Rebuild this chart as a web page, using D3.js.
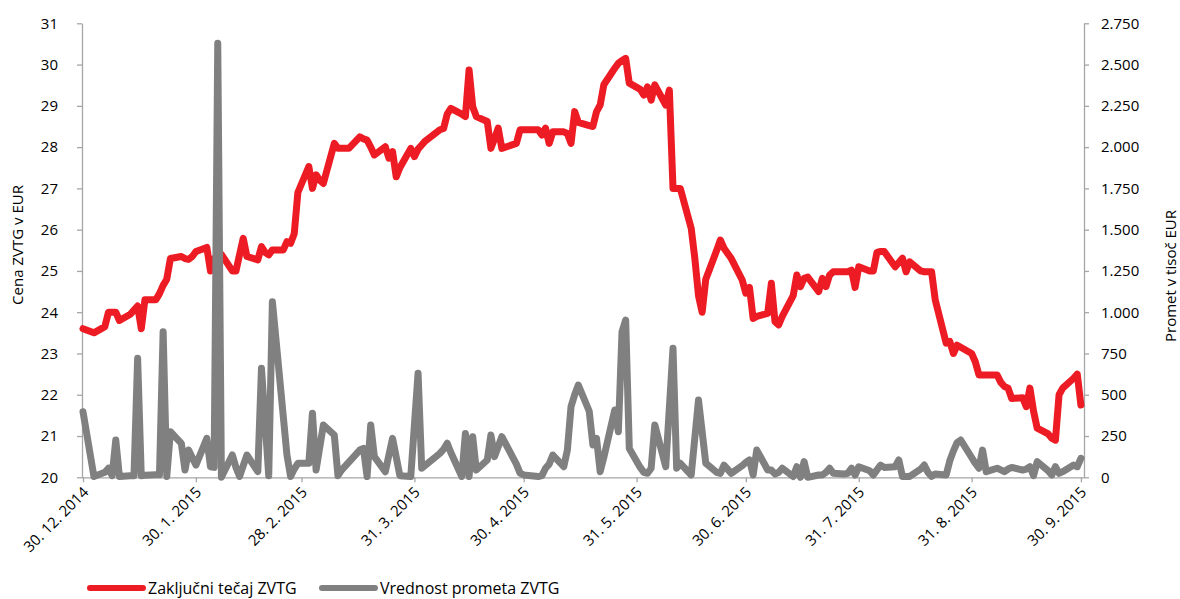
<!DOCTYPE html>
<html>
<head>
<meta charset="utf-8">
<script src="https://cdn.jsdelivr.net/npm/d3@7/dist/d3.min.js"></script>
<style>
  body { margin: 0; background: #fff; }
  text { font-family: "Open Sans", sans-serif; fill: #000; }
</style>
</head>
<body>
<svg width="1180" height="599"></svg>
<script>
var priceDates = ["2014-12-30","2015-01-02","2015-01-05","2015-01-06","2015-01-07","2015-01-08","2015-01-09","2015-01-12","2015-01-13","2015-01-14","2015-01-15","2015-01-16","2015-01-19","2015-01-20","2015-01-21","2015-01-22","2015-01-23","2015-01-26","2015-01-27","2015-01-28","2015-01-29","2015-01-30","2015-02-02","2015-02-03","2015-02-04","2015-02-05","2015-02-06","2015-02-09","2015-02-10","2015-02-11","2015-02-12","2015-02-13","2015-02-16","2015-02-17","2015-02-18","2015-02-19","2015-02-20","2015-02-23","2015-02-24","2015-02-25","2015-02-26","2015-02-27","2015-03-02","2015-03-03","2015-03-04","2015-03-05","2015-03-06","2015-03-09","2015-03-10","2015-03-11","2015-03-12","2015-03-13","2015-03-16","2015-03-17","2015-03-18","2015-03-19","2015-03-20","2015-03-23","2015-03-24","2015-03-25","2015-03-26","2015-03-27","2015-03-30","2015-03-31","2015-04-01","2015-04-02","2015-04-03","2015-04-07","2015-04-08","2015-04-09","2015-04-10","2015-04-13","2015-04-14","2015-04-15","2015-04-16","2015-04-17","2015-04-20","2015-04-21","2015-04-22","2015-04-23","2015-04-24","2015-04-28","2015-04-29","2015-04-30","2015-05-04","2015-05-05","2015-05-06","2015-05-07","2015-05-08","2015-05-11","2015-05-12","2015-05-13","2015-05-14","2015-05-15","2015-05-18","2015-05-19","2015-05-20","2015-05-21","2015-05-22","2015-05-25","2015-05-26","2015-05-27","2015-05-28","2015-05-29","2015-06-01","2015-06-02","2015-06-03","2015-06-04","2015-06-05","2015-06-08","2015-06-09","2015-06-10","2015-06-11","2015-06-12","2015-06-15","2015-06-16","2015-06-17","2015-06-18","2015-06-19","2015-06-22","2015-06-23","2015-06-24","2015-06-26","2015-06-29","2015-06-30","2015-07-01","2015-07-02","2015-07-03","2015-07-06","2015-07-07","2015-07-08","2015-07-09","2015-07-10","2015-07-13","2015-07-14","2015-07-15","2015-07-16","2015-07-17","2015-07-20","2015-07-21","2015-07-22","2015-07-23","2015-07-24","2015-07-27","2015-07-28","2015-07-29","2015-07-30","2015-07-31","2015-08-03","2015-08-04","2015-08-05","2015-08-06","2015-08-07","2015-08-10","2015-08-11","2015-08-12","2015-08-13","2015-08-14","2015-08-17","2015-08-18","2015-08-19","2015-08-20","2015-08-21","2015-08-24","2015-08-25","2015-08-26","2015-08-27","2015-08-28","2015-08-31","2015-09-01","2015-09-02","2015-09-03","2015-09-04","2015-09-07","2015-09-08","2015-09-09","2015-09-10","2015-09-11","2015-09-14","2015-09-15","2015-09-16","2015-09-17","2015-09-18","2015-09-21","2015-09-22","2015-09-23","2015-09-24","2015-09-25","2015-09-28","2015-09-29","2015-09-30"];
var priceValues = [23.6,23.5,23.65,24.0,24.0,24.0,23.8,23.95,24.05,24.15,23.6,24.3,24.3,24.45,24.65,24.8,25.3,25.35,25.3,25.28,25.35,25.47,25.57,25.0,25.3,25.35,25.4,25.0,25.0,25.4,25.79,25.35,25.27,25.59,25.45,25.39,25.51,25.51,25.71,25.67,25.9,26.9,27.53,27.0,27.33,27.2,27.12,28.09,27.97,27.97,27.97,27.97,28.25,28.2,28.17,28.0,27.81,28.01,27.73,27.89,27.28,27.5,27.97,27.77,27.95,28.05,28.15,28.42,28.45,28.8,28.94,28.8,28.74,29.87,28.98,28.74,28.62,27.97,28.2,28.46,27.97,28.09,28.42,28.42,28.42,28.29,28.46,28.09,28.37,28.37,28.33,28.09,28.86,28.6,28.52,28.5,28.86,29.02,29.51,29.91,30.03,30.1,30.15,29.55,29.4,29.26,29.46,29.14,29.51,29.02,29.38,27.0,27.0,27.0,26.03,25.3,24.4,24.0,24.8,25.5,25.75,25.55,25.3,24.78,24.46,24.6,23.85,23.9,23.97,24.7,23.77,23.69,23.9,24.4,24.9,24.62,24.82,24.85,24.5,24.82,24.62,24.9,24.98,24.98,24.98,25.02,24.6,25.1,25.0,25.0,25.45,25.47,25.47,25.1,25.2,25.31,24.98,25.22,25.0,24.98,24.98,24.98,24.3,23.25,23.29,23.0,23.2,23.15,23.0,22.8,22.48,22.48,22.48,22.48,22.3,22.2,22.16,21.91,21.93,21.71,22.16,21.6,21.19,21.05,20.95,20.9,22.0,22.16,22.4,22.5,21.75];

var volumeDates = ["2014-12-30","2015-01-02","2015-01-05","2015-01-06","2015-01-07","2015-01-08","2015-01-09","2015-01-12","2015-01-13","2015-01-14","2015-01-15","2015-01-16","2015-01-19","2015-01-20","2015-01-21","2015-01-22","2015-01-23","2015-01-26","2015-01-27","2015-01-28","2015-01-29","2015-01-30","2015-02-02","2015-02-03","2015-02-04","2015-02-05","2015-02-06","2015-02-09","2015-02-10","2015-02-11","2015-02-12","2015-02-13","2015-02-16","2015-02-17","2015-02-19","2015-02-20","2015-02-24","2015-02-25","2015-02-26","2015-02-27","2015-03-02","2015-03-03","2015-03-04","2015-03-06","2015-03-09","2015-03-10","2015-03-11","2015-03-16","2015-03-17","2015-03-18","2015-03-19","2015-03-20","2015-03-23","2015-03-25","2015-03-27","2015-03-30","2015-04-01","2015-04-02","2015-04-07","2015-04-08","2015-04-09","2015-04-10","2015-04-13","2015-04-14","2015-04-15","2015-04-16","2015-04-17","2015-04-20","2015-04-21","2015-04-22","2015-04-24","2015-04-28","2015-04-29","2015-04-30","2015-05-04","2015-05-05","2015-05-06","2015-05-07","2015-05-08","2015-05-11","2015-05-12","2015-05-13","2015-05-14","2015-05-15","2015-05-18","2015-05-19","2015-05-20","2015-05-21","2015-05-22","2015-05-25","2015-05-26","2015-05-27","2015-05-28","2015-05-29","2015-06-01","2015-06-02","2015-06-03","2015-06-04","2015-06-05","2015-06-08","2015-06-10","2015-06-11","2015-06-12","2015-06-15","2015-06-17","2015-06-19","2015-06-22","2015-06-23","2015-06-24","2015-06-26","2015-06-29","2015-06-30","2015-07-01","2015-07-02","2015-07-03","2015-07-06","2015-07-07","2015-07-08","2015-07-09","2015-07-10","2015-07-13","2015-07-14","2015-07-15","2015-07-16","2015-07-17","2015-07-20","2015-07-21","2015-07-22","2015-07-23","2015-07-24","2015-07-27","2015-07-28","2015-07-29","2015-07-30","2015-07-31","2015-08-03","2015-08-04","2015-08-05","2015-08-06","2015-08-07","2015-08-10","2015-08-11","2015-08-12","2015-08-13","2015-08-14","2015-08-17","2015-08-18","2015-08-19","2015-08-20","2015-08-21","2015-08-24","2015-08-25","2015-08-26","2015-08-27","2015-08-28","2015-08-31","2015-09-01","2015-09-02","2015-09-03","2015-09-04","2015-09-07","2015-09-08","2015-09-09","2015-09-10","2015-09-11","2015-09-14","2015-09-15","2015-09-16","2015-09-17","2015-09-18","2015-09-21","2015-09-22","2015-09-23","2015-09-24","2015-09-25","2015-09-28","2015-09-29","2015-09-30"];
var volumeValues = [397,5,30,55,10,226,5,10,10,721,10,12,15,15,882,5,276,206,44,165,120,74,236,64,60,2629,0,135,60,5,70,135,34,660,10,1064,135,5,50,85,85,388,44,317,256,10,44,165,175,5,317,125,34,236,10,5,630,55,145,170,206,150,5,266,5,246,44,105,256,125,246,80,25,14,5,10,55,80,135,64,165,428,500,559,400,196,236,34,120,408,276,882,953,175,60,30,24,55,317,64,781,55,85,14,468,85,30,24,74,24,70,90,105,14,165,44,44,20,30,55,5,64,0,95,0,14,14,30,55,25,20,24,55,14,64,40,14,45,74,60,64,105,5,5,5,50,74,30,5,20,14,100,160,210,226,120,85,55,165,34,55,45,34,50,60,44,50,64,10,95,40,14,64,24,34,74,64,115];

var xTickDates = ["2014-12-30","2015-01-30","2015-02-28","2015-03-31","2015-04-30","2015-05-31","2015-06-30","2015-07-31","2015-08-31","2015-09-30"];
var leftTicks = [20,21,22,23,24,25,26,27,28,29,30,31];
var rightTicks = [0,250,500,750,1000,1250,1500,1750,2000,2250,2500,2750];

var parse = d3.utcParse("%Y-%m-%d");
var price = priceDates.map(function(d, i) { return {date: parse(d), value: priceValues[i]}; });
var volume = volumeDates.map(function(d, i) { return {date: parse(d), value: volumeValues[i]}; });
var ticks = xTickDates.map(parse);

var svg = d3.select("svg");
var plotLeft = 82, plotRight = 1084, plotTop = 23.3, plotBottom = 477.3;
var axisColor = "#a6a6a6";

var x = d3.scaleUtc()
    .domain([parse("2014-12-30"), parse("2015-10-01")])
    .range([83, 83 + 275 * 3.642]);
var yL = d3.scaleLinear().domain([20, 31]).range([plotBottom, plotTop]);
var yR = d3.scaleLinear().domain([0, 2750]).range([plotBottom, plotTop]);

var slo = d3.formatLocale({decimal: ",", thousands: ".", grouping: [3], currency: ["", " €"]});
var dateFmt = d3.utcFormat("%-d. %-m. %Y");

// left axis
var gl = svg.append("g")
    .attr("transform", "translate(" + plotLeft + ",0)")
    .call(d3.axisLeft(yL).tickValues(leftTicks).tickSize(5).tickSizeOuter(0).tickPadding(19));
// right axis
var gr = svg.append("g")
    .attr("transform", "translate(" + plotRight + ",0)")
    .call(d3.axisRight(yR).tickValues(rightTicks).tickSize(5).tickSizeOuter(0).tickPadding(12)
      .tickFormat(slo.format(",")));
// bottom axis
var gx = svg.append("g")
    .attr("transform", "translate(0," + plotBottom + ")")
    .call(d3.axisBottom(x).tickValues(ticks).tickSize(5).tickSizeOuter(0).tickFormat(""));
gx.select(".domain").attr("d", "M" + plotLeft + ",0.5H" + plotRight);

gx.selectAll(".tick").append("text")
    .attr("text-anchor", "end")
    .attr("transform", "translate(6,16) rotate(-45)")
    .text(function(d) { return dateFmt(d); });

[gl, gr, gx].forEach(function(g) {
  g.selectAll(".domain, line").attr("stroke", axisColor).attr("stroke-width", 1.3);
  g.selectAll("text").attr("font-size", 15).attr("font-family", "'Open Sans', sans-serif").attr("fill", "#000");
});

svg.append("text")
    .attr("transform", "translate(23,245) rotate(-90)")
    .attr("text-anchor", "middle")
    .attr("font-size", 15)
    .text("Cena ZVTG v EUR");

svg.append("text")
    .attr("transform", "translate(1176,276) rotate(-90)")
    .attr("text-anchor", "middle")
    .attr("font-size", 15)
    .text("Promet v tisoč EUR");

var linePrice = d3.line()
    .x(function(d) { return x(d.date); })
    .y(function(d) { return yL(d.value); });
var lineVolume = d3.line()
    .x(function(d) { return x(d.date); })
    .y(function(d) { return yR(d.value); });

svg.append("path")
    .datum(price)
    .attr("fill", "none")
    .attr("stroke", "#ed1c24")
    .attr("stroke-width", 7)
    .attr("stroke-linejoin", "round")
    .attr("stroke-linecap", "round")
    .attr("d", linePrice);

svg.append("path")
    .datum(volume)
    .attr("fill", "none")
    .attr("stroke", "#808080")
    .attr("stroke-width", 7)
    .attr("stroke-linejoin", "round")
    .attr("stroke-linecap", "round")
    .attr("d", lineVolume);

// legend
var legend = [
  {name: "Zaključni tečaj ZVTG", color: "#ed1c24", x: 90},
  {name: "Vrednost prometa ZVTG", color: "#808080", x: 322}
];
var lg = svg.selectAll(".legend")
    .data(legend)
    .enter().append("g")
    .attr("class", "legend")
    .attr("transform", function(d) { return "translate(" + d.x + ",588)"; });
lg.append("line")
    .attr("x1", 0).attr("x2", 53)
    .attr("stroke", function(d) { return d.color; })
    .attr("stroke-width", 6)
    .attr("stroke-linecap", "round");
lg.append("text")
    .attr("x", 58)
    .attr("dy", "0.35em")
    .attr("font-size", 16)
    .text(function(d) { return d.name; });
</script>
</body>
</html>
